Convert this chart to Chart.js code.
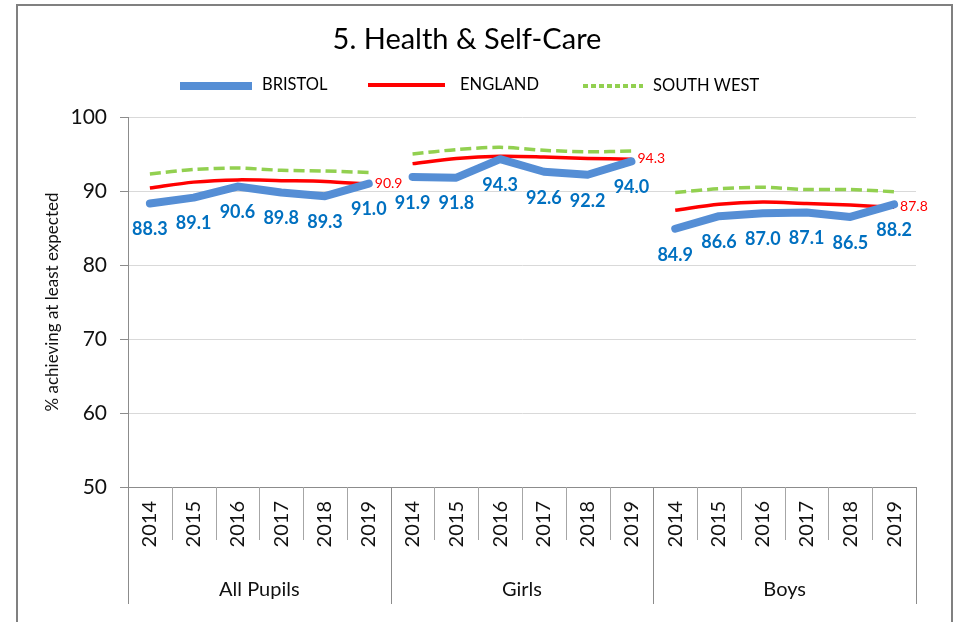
<!DOCTYPE html>
<html><head><meta charset="utf-8">
<script src="https://cdn.jsdelivr.net/npm/chart.js@4.4.1/dist/chart.umd.min.js"></script>
<style>html,body{margin:0;padding:0;background:#fff;overflow:hidden}</style>
</head><body>
<canvas id="c" width="959" height="622"></canvas>
<script>
const groups = ['All Pupils', 'Girls', 'Boys'];
const years = ['2014', '2015', '2016', '2017', '2018', '2019'];
const yTicks = [50, 60, 70, 80, 90, 100];

const bristolAll   = [88.3, 89.1, 90.6, 89.8, 89.3, 91.0];
const bristolGirls = [91.9, 91.8, 94.3, 92.6, 92.2, 94.0];
const bristolBoys  = [84.9, 86.6, 87.0, 87.1, 86.5, 88.2];

const englandAll   = [90.4, 91.2, 91.5, 91.4, 91.3, 90.9];
const englandGirls = [93.7, 94.4, 94.7, 94.6, 94.4, 94.3];
const englandBoys  = [87.4, 88.2, 88.5, 88.3, 88.1, 87.8];

const swAll   = [92.3, 92.9, 93.1, 92.8, 92.7, 92.5];
const swGirls = [95.0, 95.6, 95.9, 95.5, 95.3, 95.4];
const swBoys  = [89.8, 90.3, 90.5, 90.2, 90.2, 89.9];

const labels = [];
groups.forEach(() => years.forEach(y => labels.push(y)));

function pad(arr, g) {
  const out = new Array(groups.length * years.length).fill(null);
  arr.forEach((v, i) => { out[g * years.length + i] = v; });
  return out;
}

const FONT = 'Lato';
const BLUE = '#558ED5';
const RED = '#FF0000';
const GREEN = '#92D050';

const datasets = [];
[swAll, swGirls, swBoys].forEach((a, g) => datasets.push({
  key: 'sw', data: pad(a, g), borderColor: GREEN, borderWidth: 3.5, borderDash: [11, 5],
  tension: 0.3, pointRadius: 0, spanGaps: false, order: 3
}));
[englandAll, englandGirls, englandBoys].forEach((a, g) => datasets.push({
  key: 'eng', data: pad(a, g), borderColor: RED, borderWidth: 3.5,
  tension: 0.3, pointRadius: 0, spanGaps: false, order: 2
}));
[bristolAll, bristolGirls, bristolBoys].forEach((a, g) => datasets.push({
  key: 'bri', data: pad(a, g), borderColor: BLUE, borderWidth: 8, borderCapStyle: 'round', borderJoinStyle: 'round',
  tension: 0, pointRadius: 0, spanGaps: false, order: 1
}));

const decor = {
  id: 'decor',
  beforeDraw(chart) {
    const c = chart.ctx;
    c.save();
    c.fillStyle = '#fff';
    c.fillRect(0, 0, chart.width, chart.height);
    c.restore();
  },
  afterDraw(chart) {
    const c = chart.ctx;
    const xs = chart.scales.x;
    const ca = chart.chartArea;
    const n = labels.length;
    const w = xs.getPixelForValue(1) - xs.getPixelForValue(0);
    c.save();
    c.strokeStyle = '#8c8c8c';
    c.lineWidth = 1;
    c.beginPath();
    c.moveTo(ca.left, Math.round(ca.bottom) + 0.5);
    c.lineTo(ca.right, Math.round(ca.bottom) + 0.5);
    c.stroke();
    for (let i = 0; i <= n; i++) {
      const x = Math.round(xs.getPixelForValue(0) - w / 2 + i * w) + 0.5;
      const isGroup = i % years.length === 0;
      c.strokeStyle = isGroup ? '#8c8c8c' : '#a6a6a6';
      c.beginPath();
      c.moveTo(x, ca.bottom);
      c.lineTo(x, isGroup ? 604 : 540);
      c.stroke();
    }
    c.fillStyle = '#111';
    c.font = '20px ' + FONT;
    c.textAlign = 'center';
    c.textBaseline = 'middle';
    groups.forEach((g, gi) => {
      const x0 = xs.getPixelForValue(gi * years.length) - w / 2;
      const x1 = xs.getPixelForValue(gi * years.length + years.length - 1) + w / 2;
      c.fillText(g, (x0 + x1) / 2, 590);
    });
    c.fillStyle = '#000';
    c.font = '29px ' + FONT;
    c.fillText('5. Health & Self-Care', 467, 40);
    c.font = '16.5px ' + FONT;
    c.textAlign = 'left';
    c.lineCap = 'butt';
    c.strokeStyle = BLUE; c.lineWidth = 8;
    c.beginPath(); c.moveTo(180, 86); c.lineTo(252, 86); c.stroke();
    c.fillText('BRISTOL', 262, 85);
    c.strokeStyle = RED; c.lineWidth = 4;
    c.beginPath(); c.moveTo(368, 85); c.lineTo(445, 85); c.stroke();
    c.fillText('ENGLAND', 460, 85);
    c.strokeStyle = GREEN; c.lineWidth = 4; c.setLineDash([5, 3]);
    c.beginPath(); c.moveTo(583, 86); c.lineTo(643, 86); c.stroke();
    c.setLineDash([]);
    c.fillText('SOUTH WEST', 653, 86);
    c.strokeStyle = '#808080'; c.lineWidth = 2;
    c.strokeRect(17, 5, 935, 640);
    c.restore();
  },
  afterDatasetsDraw(chart) {
    const c = chart.ctx;
    c.save();
    c.textBaseline = 'middle';
    chart.data.datasets.forEach((ds, di) => {
      const meta = chart.getDatasetMeta(di);
      if (ds.key === 'bri') {
        c.fillStyle = '#0070C0';
        c.font = 'bold 18px ' + FONT;
        c.textAlign = 'center';
        ds.data.forEach((v, i) => {
          if (v === null) return;
          const p = meta.data[i];
          c.fillText(v.toFixed(1), p.x, p.y + 26);
        });
      } else if (ds.key === 'eng') {
        let last = -1;
        ds.data.forEach((v, i) => { if (v !== null) last = i; });
        const p = meta.data[last];
        c.fillStyle = '#FF0000';
        c.font = '14px ' + FONT;
        c.textAlign = 'left';
        c.fillText(ds.data[last].toFixed(1), p.x + 6, p.y - 1);
      }
    });
    c.restore();
  }
};

new Chart(document.getElementById('c'), {
  type: 'line',
  data: { labels, datasets },
  plugins: [decor],
  options: {
    responsive: false,
    animation: false,
    devicePixelRatio: 1,
    layout: { padding: { top: 117, right: 43, left: 42, bottom: 0 } },
    plugins: { legend: { display: false }, tooltip: { enabled: false } },
    scales: {
      x: {
        type: 'category',
        offset: true,
        grid: { display: false },
        border: { display: false },
        ticks: { autoSkip: false, minRotation: 90, maxRotation: 90, padding: 6, color: '#111', font: { family: FONT, size: 20 } },
        afterFit(s) { s.height = 135; }
      },
      y: {
        min: yTicks[0], max: yTicks[yTicks.length - 1],
        afterBuildTicks(s) { s.ticks = yTicks.map(v => ({ value: v })); },
        ticks: { color: '#111', font: { family: FONT, size: 21 }, padding: 13 },
        grid: { color: '#d9d9d9', tickLength: 8, tickColor: '#8c8c8c' },
        border: { color: '#8c8c8c' },
        title: { display: true, text: '% achieving at least expected', color: '#111', font: { family: FONT, size: 17 }, padding: { top: 0, bottom: 0 } },
        afterFit(s) { s.width = 86; }
      }
    }
  }
});
</script>
</body></html>
